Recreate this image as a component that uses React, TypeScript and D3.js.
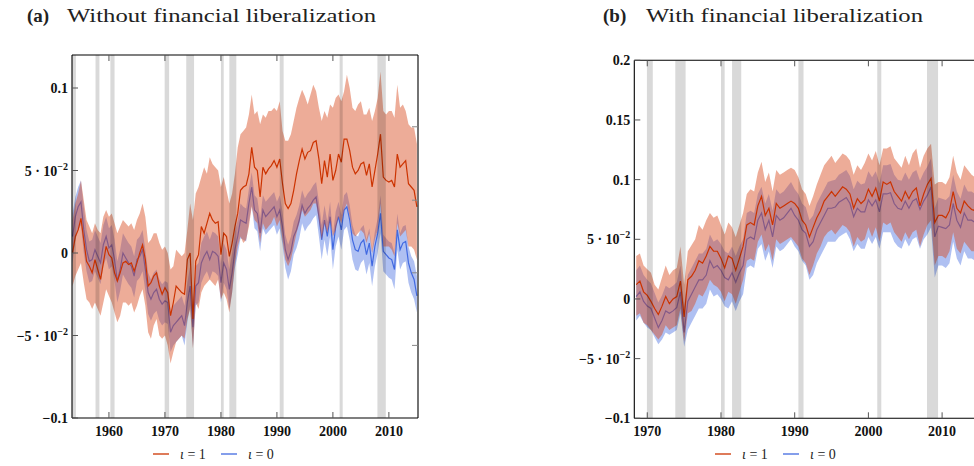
import React from "react";
import * as d3 from "d3";

// ---------- DATA ----------
// Left panel (a): half-year grid from 1953.5 to 2015.0
const leftStart = 1953.5;
const leftRedMean = [0.000,0.010,0.014,0.021,0.008,-0.005,-0.008,-0.012,-0.004,-0.010,-0.016,-0.006,0.004,-0.001,-0.003,-0.012,-0.017,-0.012,-0.006,-0.005,-0.007,-0.006,-0.011,-0.006,0.000,0.005,-0.004,-0.020,-0.018,-0.014,-0.012,-0.020,-0.025,-0.021,-0.024,-0.038,-0.030,-0.020,-0.022,-0.024,-0.025,-0.004,0.000,-0.040,-0.005,-0.001,0.016,0.012,0.018,0.024,0.020,0.018,0.019,-0.001,0.012,0.010,-0.002,0.006,0.016,0.024,0.038,0.040,0.041,0.048,0.064,0.052,0.050,0.034,0.052,0.048,0.051,0.053,0.056,0.052,0.057,0.042,0.030,0.027,0.030,0.038,0.048,0.056,0.063,0.057,0.061,0.062,0.067,0.068,0.057,0.042,0.056,0.046,0.060,0.044,0.050,0.060,0.055,0.069,0.069,0.062,0.052,0.048,0.050,0.054,0.055,0.047,0.054,0.040,0.050,0.060,0.072,0.046,0.044,0.043,0.044,0.040,0.060,0.052,0.054,0.056,0.042,0.040,0.038,0.028];
const leftRedUpper = [0.020,0.030,0.036,0.044,0.032,0.020,0.016,0.012,0.018,0.014,0.012,0.022,0.026,0.022,0.024,0.018,0.012,0.016,0.020,0.018,0.016,0.018,0.014,0.020,0.024,0.030,0.022,0.006,0.008,0.012,0.012,0.006,0.002,0.004,0.000,-0.010,-0.008,0.002,0.000,-0.002,0.000,0.014,0.030,0.020,0.036,0.040,0.046,0.052,0.048,0.058,0.054,0.052,0.050,0.040,0.046,0.038,0.030,0.036,0.048,0.064,0.072,0.074,0.076,0.084,0.096,0.084,0.086,0.078,0.084,0.082,0.086,0.086,0.088,0.086,0.092,0.074,0.068,0.068,0.072,0.080,0.088,0.094,0.099,0.095,0.090,0.096,0.102,0.098,0.088,0.080,0.086,0.082,0.090,0.088,0.094,0.096,0.092,0.098,0.108,0.100,0.088,0.086,0.090,0.092,0.084,0.084,0.088,0.080,0.086,0.094,0.110,0.086,0.084,0.086,0.086,0.082,0.102,0.088,0.090,0.086,0.078,0.076,0.076,0.066];
const leftRedLower = [-0.020,-0.014,-0.010,-0.006,-0.018,-0.028,-0.030,-0.034,-0.030,-0.034,-0.038,-0.030,-0.022,-0.026,-0.030,-0.036,-0.042,-0.038,-0.030,-0.030,-0.032,-0.030,-0.036,-0.032,-0.026,-0.022,-0.032,-0.048,-0.052,-0.044,-0.040,-0.050,-0.052,-0.050,-0.056,-0.067,-0.060,-0.054,-0.052,-0.050,-0.052,-0.040,-0.034,-0.058,-0.030,-0.034,-0.024,-0.020,-0.018,-0.016,-0.018,-0.020,-0.016,-0.028,-0.024,-0.028,-0.036,-0.024,-0.006,0.004,0.010,0.006,0.008,0.016,0.028,0.020,0.018,0.006,0.018,0.014,0.016,0.018,0.022,0.016,0.020,0.008,-0.004,-0.008,-0.004,0.004,0.012,0.018,0.026,0.022,0.024,0.026,0.030,0.030,0.020,0.008,0.018,0.012,0.020,0.010,0.014,0.022,0.018,0.026,0.030,0.022,0.012,0.010,0.012,0.014,0.012,0.006,0.012,0.000,0.008,0.014,0.030,0.004,0.004,0.004,0.002,-0.002,0.018,0.010,0.012,0.014,0.004,0.004,0.002,-0.004];
const leftBlueMean = [0.010,0.022,0.028,0.031,0.014,0.002,-0.005,-0.004,0.002,-0.002,-0.006,0.005,0.010,0.003,0.005,-0.004,-0.017,-0.010,0.000,-0.003,-0.006,-0.008,-0.014,-0.004,-0.002,0.002,-0.010,-0.024,-0.028,-0.024,-0.022,-0.028,-0.031,-0.029,-0.030,-0.048,-0.044,-0.042,-0.040,-0.038,-0.044,-0.030,-0.020,-0.045,-0.020,-0.018,-0.006,-0.002,0.001,-0.004,0.001,0.000,-0.002,-0.018,-0.006,-0.010,-0.022,-0.012,0.002,0.010,0.020,0.019,0.018,0.030,0.040,0.026,0.024,0.012,0.026,0.022,0.024,0.026,0.028,0.022,0.026,0.016,0.002,-0.004,0.001,0.010,0.014,0.020,0.029,0.024,0.027,0.029,0.032,0.034,0.022,0.008,0.020,0.010,0.022,0.002,0.016,0.022,0.014,0.026,0.028,0.020,0.008,0.002,0.001,0.006,0.008,-0.001,0.006,-0.008,0.004,0.012,0.024,0.001,-0.001,-0.003,-0.004,-0.010,0.014,0.002,0.006,0.007,-0.006,-0.012,-0.016,-0.026];
const leftBlueUpper = [0.024,0.034,0.040,0.044,0.028,0.014,0.007,0.008,0.014,0.010,0.006,0.017,0.022,0.015,0.017,0.008,-0.005,0.002,0.012,0.009,0.006,0.004,-0.002,0.008,0.010,0.014,0.002,-0.012,-0.016,-0.012,-0.010,-0.016,-0.019,-0.017,-0.018,-0.036,-0.032,-0.030,-0.028,-0.026,-0.032,-0.018,-0.008,-0.033,-0.008,-0.006,0.006,0.010,0.013,0.008,0.013,0.012,0.010,-0.006,0.006,0.002,-0.010,0.000,0.013,0.020,0.030,0.028,0.027,0.039,0.049,0.035,0.033,0.021,0.035,0.031,0.033,0.035,0.037,0.031,0.035,0.025,0.011,0.005,0.010,0.019,0.023,0.029,0.038,0.033,0.036,0.038,0.041,0.043,0.031,0.017,0.029,0.019,0.031,0.011,0.025,0.031,0.023,0.035,0.037,0.029,0.017,0.011,0.010,0.015,0.017,0.008,0.015,0.001,0.013,0.021,0.035,0.011,0.009,0.007,0.006,0.000,0.024,0.012,0.016,0.017,0.004,-0.002,-0.005,-0.014];
const leftBlueLower = [-0.006,0.008,0.014,0.017,0.000,-0.011,-0.018,-0.017,-0.011,-0.015,-0.019,-0.008,-0.003,-0.010,-0.008,-0.017,-0.030,-0.023,-0.013,-0.016,-0.019,-0.021,-0.027,-0.017,-0.015,-0.011,-0.023,-0.037,-0.041,-0.037,-0.035,-0.041,-0.044,-0.042,-0.043,-0.060,-0.056,-0.054,-0.052,-0.050,-0.056,-0.042,-0.032,-0.057,-0.032,-0.030,-0.018,-0.014,-0.011,-0.016,-0.011,-0.012,-0.014,-0.030,-0.018,-0.022,-0.034,-0.024,-0.009,-0.001,0.009,0.008,0.007,0.019,0.029,0.015,0.013,0.001,0.015,0.011,0.013,0.015,0.017,0.011,0.015,0.005,-0.009,-0.016,-0.011,-0.001,0.003,0.009,0.018,0.013,0.016,0.018,0.021,0.023,0.010,-0.004,0.008,-0.002,0.010,-0.010,0.004,0.010,0.002,0.014,0.016,0.008,-0.004,-0.010,-0.011,-0.006,-0.004,-0.013,-0.006,-0.020,-0.008,0.000,0.012,-0.011,-0.013,-0.015,-0.016,-0.022,0.002,-0.010,-0.006,-0.005,-0.018,-0.024,-0.028,-0.036];

// Right panel (b): half-year grid from 1968.5 to 2015.0
const rightStart = 1968.5;
const rightRedMean = [0.012,0.015,0.006,0.003,-0.002,-0.008,-0.013,-0.006,0.002,-0.004,0.000,0.002,0.015,-0.015,0.016,0.019,0.024,0.032,0.030,0.036,0.044,0.040,0.040,0.034,0.026,0.036,0.034,0.024,0.034,0.044,0.062,0.064,0.062,0.078,0.086,0.070,0.076,0.062,0.080,0.076,0.078,0.080,0.082,0.080,0.076,0.066,0.062,0.052,0.060,0.068,0.074,0.082,0.086,0.090,0.086,0.090,0.094,0.092,0.088,0.076,0.084,0.080,0.083,0.092,0.086,0.093,0.082,0.098,0.096,0.098,0.090,0.086,0.082,0.090,0.084,0.090,0.093,0.078,0.088,0.096,0.101,0.064,0.070,0.070,0.068,0.074,0.090,0.076,0.072,0.082,0.078,0.075,0.074,0.076];
const rightRedUpper = [0.036,0.038,0.028,0.025,0.022,0.012,0.008,0.018,0.028,0.020,0.024,0.026,0.044,0.012,0.040,0.045,0.050,0.062,0.058,0.066,0.072,0.068,0.070,0.062,0.054,0.064,0.060,0.052,0.062,0.072,0.088,0.092,0.090,0.106,0.115,0.098,0.106,0.090,0.108,0.104,0.106,0.108,0.110,0.108,0.102,0.092,0.088,0.078,0.086,0.096,0.104,0.112,0.116,0.120,0.114,0.118,0.122,0.120,0.116,0.104,0.112,0.108,0.114,0.122,0.116,0.124,0.112,0.126,0.126,0.128,0.118,0.114,0.110,0.120,0.112,0.122,0.126,0.110,0.120,0.126,0.130,0.096,0.098,0.098,0.096,0.102,0.120,0.106,0.100,0.112,0.108,0.104,0.102,0.104];
const rightRedLower = [-0.014,-0.012,-0.020,-0.022,-0.026,-0.030,-0.034,-0.030,-0.022,-0.026,-0.024,-0.022,-0.008,-0.036,-0.012,-0.010,-0.004,0.004,0.002,0.008,0.016,0.012,0.010,0.006,-0.002,0.006,0.004,-0.004,0.006,0.016,0.032,0.034,0.032,0.048,0.054,0.040,0.046,0.032,0.050,0.046,0.048,0.050,0.052,0.048,0.044,0.034,0.030,0.020,0.028,0.038,0.044,0.052,0.056,0.058,0.054,0.058,0.062,0.060,0.056,0.044,0.052,0.048,0.050,0.060,0.052,0.060,0.048,0.064,0.062,0.064,0.056,0.052,0.048,0.056,0.050,0.056,0.058,0.044,0.054,0.062,0.066,0.028,0.036,0.036,0.034,0.040,0.056,0.042,0.038,0.048,0.044,0.040,0.040,0.042];
const rightBlueMean = [0.002,0.006,-0.002,-0.006,-0.008,-0.016,-0.024,-0.018,-0.010,-0.012,-0.010,-0.007,0.006,-0.028,-0.002,0.004,0.010,0.016,0.016,0.020,0.032,0.026,0.028,0.024,0.018,0.016,0.022,0.014,0.022,0.028,0.050,0.052,0.050,0.066,0.072,0.058,0.066,0.052,0.070,0.066,0.068,0.072,0.076,0.070,0.066,0.058,0.055,0.044,0.048,0.058,0.064,0.070,0.076,0.076,0.077,0.081,0.083,0.085,0.080,0.069,0.076,0.073,0.073,0.083,0.078,0.083,0.073,0.088,0.088,0.089,0.080,0.076,0.075,0.082,0.076,0.082,0.084,0.075,0.082,0.087,0.094,0.052,0.061,0.060,0.059,0.062,0.080,0.066,0.060,0.072,0.066,0.066,0.064,0.066];
const rightBlueUpper = [0.024,0.028,0.020,0.016,0.013,0.005,-0.003,0.003,0.011,0.009,0.011,0.014,0.028,-0.006,0.020,0.026,0.032,0.038,0.038,0.042,0.054,0.048,0.050,0.046,0.040,0.038,0.044,0.036,0.044,0.050,0.072,0.074,0.072,0.088,0.094,0.080,0.088,0.074,0.092,0.088,0.090,0.094,0.098,0.092,0.088,0.080,0.077,0.066,0.070,0.080,0.086,0.092,0.098,0.099,0.100,0.104,0.106,0.108,0.103,0.092,0.099,0.096,0.097,0.107,0.102,0.107,0.097,0.112,0.112,0.113,0.104,0.100,0.099,0.106,0.100,0.106,0.108,0.099,0.106,0.111,0.118,0.076,0.085,0.084,0.083,0.086,0.104,0.090,0.084,0.096,0.090,0.090,0.088,0.090];
const rightBlueLower = [-0.018,-0.014,-0.020,-0.024,-0.026,-0.032,-0.038,-0.034,-0.028,-0.030,-0.028,-0.026,-0.012,-0.040,-0.026,-0.020,-0.014,-0.008,-0.008,-0.004,0.008,0.002,0.004,0.000,-0.006,-0.008,-0.002,-0.010,-0.002,0.004,0.026,0.028,0.026,0.042,0.046,0.032,0.040,0.026,0.044,0.040,0.042,0.046,0.050,0.044,0.040,0.032,0.028,0.016,0.020,0.030,0.036,0.042,0.048,0.048,0.048,0.052,0.054,0.056,0.050,0.040,0.046,0.042,0.042,0.052,0.046,0.052,0.042,0.056,0.056,0.056,0.048,0.044,0.042,0.050,0.044,0.050,0.052,0.042,0.050,0.054,0.060,0.018,0.028,0.028,0.026,0.030,0.048,0.034,0.028,0.040,0.034,0.034,0.032,0.034];

// NBER recessions (start, end)
const recessionStart = [1953.3, 1957.6, 1960.25, 1969.95, 1973.8, 1980.0, 1981.5, 1990.5, 2001.2, 2007.95];
const recessionEnd = [1954.1, 1958.3, 1961.0, 1970.75, 1975.2, 1980.5, 1982.75, 1991.2, 2001.75, 2009.45];

const xTicks = [1960, 1970, 1980, 1990, 2000, 2010];
const xTicksRight = [1970, 1980, 1990, 2000, 2010];
const leftYTicks = [-0.1, -0.05, 0, 0.05, 0.1];
const rightYTicks = [-0.1, -0.05, 0, 0.05, 0.1, 0.15, 0.2];
const leftSecondaryTicks = [0.0765, 0.032, -0.012, -0.056];
const legendLabels = ["1", "0"];

const RED = "#cc3300";
const RED_FILL = "#d8461a";
const BLUE = "#4169e1";
const FONT = "'Liberation Serif', 'Times New Roman', serif";

function yLabel(v: number) {
  if (v === 0) return [{ t: "0" }];
  if (Math.abs(Math.abs(v) - 0.05) < 1e-9) {
    return [{ t: (v < 0 ? "\u2212" : "") + "5 \u00b7 10" }, { t: "\u22122", sup: true }];
  }
  const s = String(Math.abs(v));
  return [{ t: (v < 0 ? "\u2212" : "") + s }];
}

type PanelProps = {
  id: string;
  years: number[];
  redMean: number[]; redUp: number[]; redLo: number[];
  blueMean: number[]; blueUp: number[]; blueLo: number[];
  x: d3.ScaleLinear<number, number>;
  y: d3.ScaleLinear<number, number>;
  ticksX: number[];
  ticksY: number[];
  secondary?: number[];
  drawRight: boolean;
};

function Panel(p: PanelProps) {
  const { x, y, years } = p;
  const [x0, x1] = x.range();
  const [yb, yt] = y.range();
  const area = (lo: number[], up: number[]) =>
    d3.area<number>().x((_, i) => x(years[i])).y0((_, i) => y(lo[i])).y1((_, i) => y(up[i]))(years) || "";
  const line = (m: number[]) => d3.line<number>().x((_, i) => x(years[i])).y((_, i) => y(m[i]))(years) || "";
  const clipId = "clip-" + p.id;
  return (
    <g>
      <defs>
        <clipPath id={clipId}>
          <rect x={x0} y={yt} width={x1 - x0} height={yb - yt} />
        </clipPath>
      </defs>
      <g clipPath={`url(#${clipId})`}>
        <path d={area(p.blueLo, p.blueUp)} fill={BLUE} fillOpacity={0.42} stroke="none" />
        <path d={line(p.blueMean)} fill="none" stroke={BLUE} strokeWidth={1.2} />
        <path d={area(p.redLo, p.redUp)} fill={RED_FILL} fillOpacity={0.45} stroke="none" />
        <path d={line(p.redMean)} fill="none" stroke={RED} strokeWidth={1.2} />
        {recessionStart.map((s, i) => (
          <rect key={i} x={x(s)} y={yt} width={x(recessionEnd[i]) - x(s)} height={yb - yt} fill="#000" fillOpacity={0.15} />
        ))}
      </g>
      {/* frame */}
      <line x1={x0} x2={x0} y1={yt} y2={yb} stroke="#000" strokeWidth={1.1} />
      <line x1={x0} x2={x1} y1={yb} y2={yb} stroke="#000" strokeWidth={1.1} />
      <line x1={x0} x2={x1} y1={yt} y2={yt} stroke="#000" strokeWidth={1.1} />
      {p.drawRight && <line x1={x1} x2={x1} y1={yt} y2={yb} stroke="#000" strokeWidth={1.1} />}
      {/* x ticks */}
      {p.ticksX.map((t) => (
        <g key={t}>
          <line x1={x(t)} x2={x(t)} y1={yb} y2={yb - 6} stroke="#555" strokeWidth={1} />
          <line x1={x(t)} x2={x(t)} y1={yt} y2={yt + 6} stroke="#555" strokeWidth={1} />
          <text x={x(t)} y={yb + 18} textAnchor="middle" fontFamily={FONT} fontSize={14} fontWeight="bold" fill="#111">{t}</text>
        </g>
      ))}
      {/* y ticks */}
      {p.ticksY.map((t) => (
        <g key={t}>
          <line x1={x0} x2={x0 + 6} y1={y(t)} y2={y(t)} stroke="#555" strokeWidth={1} />
          <text x={x0 - 4} y={y(t) + 5} textAnchor="end" fontFamily={FONT} fontSize={14} fontWeight="bold" fill="#111">
            {yLabel(t).map((s, k) =>
              s.sup ? (
                <tspan key={k} dy={-6} fontSize={10}>{s.t}</tspan>
              ) : (
                <tspan key={k}>{s.t}</tspan>
              )
            )}
          </text>
        </g>
      ))}
      {p.secondary && p.secondary.map((t) => (
        <line key={t} x1={x1} x2={x1 - 6} y1={y(t)} y2={y(t)} stroke="#888" strokeWidth={1} />
      ))}
    </g>
  );
}

function Legend({ cx, cy }: { cx: number; cy: number }) {
  const colors = [RED, BLUE];
  return (
    <g transform={`translate(${cx},${cy})`}>
      {legendLabels.map((l, i) => {
        const ox = i * 68;
        return (
          <g key={l} transform={`translate(${ox},0)`}>
            <line x1={0} x2={16} y1={0} y2={0} stroke={colors[i]} strokeWidth={1.3} />
            <text x={27} y={5} fontFamily={FONT} fontSize={14} fill="#222">
              <tspan fontStyle="italic">{"\u03b9"}</tspan>
              <tspan>{" = " + l}</tspan>
            </text>
          </g>
        );
      })}
    </g>
  );
}

export default function App() {
  const leftYears = leftRedMean.map((_, i) => leftStart + i * 0.5);
  const rightYears = rightRedMean.map((_, i) => rightStart + i * 0.5);

  const xL = d3.scaleLinear().domain([1953.4, 2015.2]).range([72, 418]);
  const yL = d3.scaleLinear().domain([-0.1, 0.12]).range([418, 55]);
  const xR = d3.scaleLinear().domain([1968.24, 2015.25]).range([634.3, 980.8]);
  const yR = d3.scaleLinear().domain([-0.1, 0.2]).range([418.3, 60.3]);

  return (
    <svg width={974} height={466} style={{ position: "absolute", left: 0, top: 0, background: "#fff" }}>
      <rect x={0} y={0} width={974} height={466} fill="#fff" />
      <text x={27} y={22} fontFamily={FONT} fontSize={19} fill="#222">
        <tspan fontWeight="bold">(a)</tspan>
      </text>
      <text x={67} y={22} fontFamily={FONT} fontSize={19} fill="#222" textLength={309} lengthAdjust="spacingAndGlyphs">Without financial liberalization</text>
      <text x={603} y={22} fontFamily={FONT} fontSize={19} fill="#222">
        <tspan fontWeight="bold">(b)</tspan>
      </text>
      <text x={646} y={22} fontFamily={FONT} fontSize={19} fill="#222" textLength={277} lengthAdjust="spacingAndGlyphs">With financial liberalization</text>

      <Panel id="a" years={leftYears}
        redMean={leftRedMean} redUp={leftRedUpper} redLo={leftRedLower}
        blueMean={leftBlueMean} blueUp={leftBlueUpper} blueLo={leftBlueLower}
        x={xL} y={yL} ticksX={xTicks} ticksY={leftYTicks} secondary={leftSecondaryTicks} drawRight={true} />
      <Panel id="b" years={rightYears}
        redMean={rightRedMean} redUp={rightRedUpper} redLo={rightRedLower}
        blueMean={rightBlueMean} blueUp={rightBlueUpper} blueLo={rightBlueLower}
        x={xR} y={yR} ticksX={xTicksRight} ticksY={rightYTicks} drawRight={true} />

      <Legend cx={153} cy={454} />
      <Legend cx={715} cy={454} />
    </svg>
  );
}
